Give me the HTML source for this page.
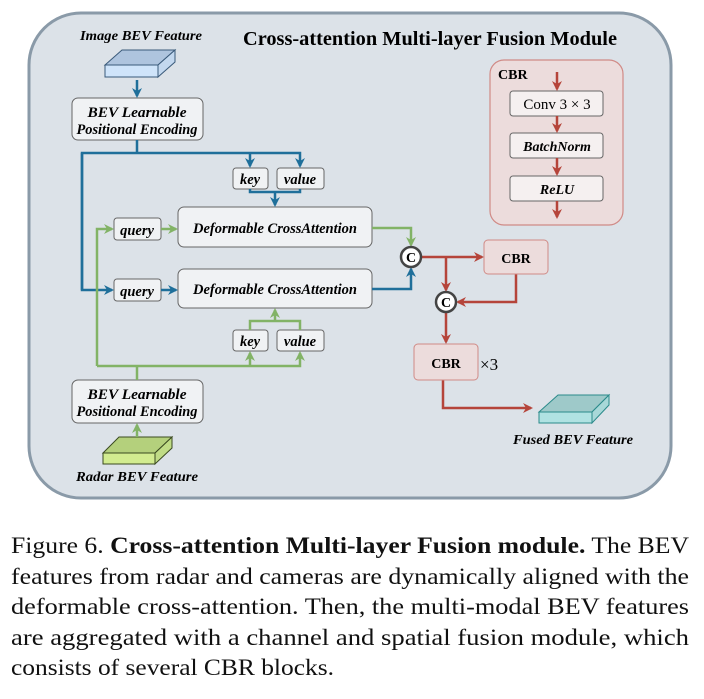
<!DOCTYPE html>
<html><head><meta charset="utf-8"><style>body{margin:0;background:#fff}svg{display:block}</style></head><body>
<svg width="704" height="699" viewBox="0 0 704 699" xmlns="http://www.w3.org/2000/svg" font-family="Liberation Serif, serif">
<defs>
<marker id="ab" viewBox="0 0 10 10" refX="8" refY="5" markerWidth="4" markerHeight="4" orient="auto"><path d="M0,0L10,5L0,10L3,5z" fill="#1f6f9a"/></marker>
<marker id="ag" viewBox="0 0 10 10" refX="8" refY="5" markerWidth="4" markerHeight="4" orient="auto"><path d="M0,0L10,5L0,10L3,5z" fill="#82b366"/></marker>
<marker id="ar" viewBox="0 0 10 10" refX="8" refY="5" markerWidth="4" markerHeight="4" orient="auto"><path d="M0,0L10,5L0,10L3,5z" fill="#b5443a"/></marker>
</defs>
<rect x="29" y="13" width="642" height="485" rx="52" fill="#dce2e8" stroke="#8a9aa8" stroke-width="3"/>
<text x="430" y="45" font-size="20.5" font-weight="bold" text-anchor="middle" textLength="374" lengthAdjust="spacingAndGlyphs">Cross-attention Multi-layer Fusion Module</text>
<g font-style="italic" font-weight="bold" font-size="14" text-anchor="middle">
<text x="141" y="40" textLength="122" lengthAdjust="spacingAndGlyphs">Image BEV Feature</text>
<text x="137" y="481" textLength="122" lengthAdjust="spacingAndGlyphs">Radar BEV Feature</text>
<text x="573" y="444" textLength="120" lengthAdjust="spacingAndGlyphs">Fused BEV Feature</text>
</g>
<g stroke="#3a5a7a" stroke-width="1">
<polygon points="105,65 122,50 175,50 158,65" fill="#aec4de"/>
<polygon points="158,65 175,50 175,62 158,77" fill="#c3d8ef"/>
<rect x="105" y="65" width="53" height="12" fill="#cfe4fa"/>
</g>
<g stroke="#3a4a20" stroke-width="1">
<polygon points="103,453 119,437 172,437 155,453" fill="#b4d07c"/>
<polygon points="155,453 172,437 172,448 155,464" fill="#c0dc86"/>
<rect x="103" y="453" width="52" height="11" fill="#d2ec90"/>
</g>
<g stroke="#2a8a8a" stroke-width="1">
<polygon points="539,412 558,395 609,395 592,412" fill="#9ec9c9"/>
<polygon points="592,412 609,395 609,405 592,423" fill="#a8d8d8"/>
<rect x="539" y="412" width="53" height="11" fill="#b0e2e2"/>
</g>
<g fill="#f0f2f4" stroke="#666" stroke-width="1">
<rect x="72" y="98" width="131" height="42" rx="6"/>
<rect x="72" y="380" width="131" height="43" rx="6"/>
<rect x="233" y="168" width="35" height="21" rx="3"/>
<rect x="277" y="168" width="47" height="21" rx="3"/>
<rect x="233" y="330" width="35" height="21" rx="3"/>
<rect x="277" y="330" width="47" height="21" rx="3"/>
<rect x="114" y="218" width="47" height="22" rx="3"/>
<rect x="114" y="279" width="47" height="22" rx="3"/>
<rect x="178" y="207" width="194" height="40" rx="6"/>
<rect x="178" y="269" width="194" height="39" rx="6"/>
</g>
<g font-style="italic" font-weight="bold" font-size="14.5" text-anchor="middle">
<text x="137" y="117" textLength="99" lengthAdjust="spacingAndGlyphs">BEV Learnable</text><text x="137" y="134" textLength="121" lengthAdjust="spacingAndGlyphs">Positional Encoding</text>
<text x="137" y="399" textLength="99" lengthAdjust="spacingAndGlyphs">BEV Learnable</text><text x="137" y="416" textLength="121" lengthAdjust="spacingAndGlyphs">Positional Encoding</text>
<text x="250" y="184">key</text><text x="300" y="184">value</text>
<text x="250" y="346">key</text><text x="300" y="346">value</text>
<text x="137" y="235">query</text><text x="137" y="296">query</text>
<text x="275" y="233" textLength="164" lengthAdjust="spacingAndGlyphs">Deformable CrossAttention</text>
<text x="275" y="294" textLength="164" lengthAdjust="spacingAndGlyphs">Deformable CrossAttention</text>
</g>
<g stroke="#1f6f9a" stroke-width="2.5" fill="none">
<line x1="137" y1="80" x2="137" y2="96" marker-end="url(#ab)"/>
<path d="M137,140V153M82,290V153H300V166" marker-end="url(#ab)"/>
<path d="M250,153V166" marker-end="url(#ab)"/>
<path d="M250,189V192H300V189M275,192V205" marker-end="url(#ab)"/>
<path d="M82,153V290H112" marker-end="url(#ab)"/>
<path d="M161,290H176" marker-end="url(#ab)"/>
<path d="M372,289H411V269" marker-end="url(#ab)"/>
</g>
<g stroke="#82b366" stroke-width="2.5" fill="none">
<path d="M137,437V425" marker-end="url(#ag)"/>
<path d="M137,380V366"/>
<path d="M97,366H300V353" marker-end="url(#ag)"/>
<path d="M250,366V353" marker-end="url(#ag)"/>
<path d="M97,366V229H112" marker-end="url(#ag)"/>
<path d="M161,229H176" marker-end="url(#ag)"/>
<path d="M250,330V321H300V330M275,321V310" marker-end="url(#ag)"/>
<path d="M372,228H411V245" marker-end="url(#ag)"/>
</g>
<rect x="490" y="60" width="133" height="165" rx="14" fill="#ecdcdc" stroke="#d08a86" stroke-width="1.2"/>
<text x="498" y="79" font-size="14" font-weight="bold">CBR</text>
<g fill="#f5f0f0" stroke="#666"><rect x="510" y="91" width="93" height="25" rx="3"/><rect x="510" y="133" width="93" height="25" rx="3"/><rect x="510" y="176" width="93" height="25" rx="3"/></g>
<text x="557" y="109" font-size="15" text-anchor="middle">Conv 3 × 3</text>
<text x="557" y="151" font-size="14" font-style="italic" font-weight="bold" text-anchor="middle">BatchNorm</text>
<text x="557" y="194" font-size="14" font-style="italic" font-weight="bold" text-anchor="middle">ReLU</text>
<g stroke="#b5443a" stroke-width="2.5" fill="none">
<path d="M557,72V89" marker-end="url(#ar)"/><path d="M557,116V131" marker-end="url(#ar)"/><path d="M557,158V174" marker-end="url(#ar)"/><path d="M557,201V217" marker-end="url(#ar)"/>
<path d="M421,257H482" marker-end="url(#ar)"/>
<path d="M446,257V290" marker-end="url(#ar)"/>
<path d="M516,274V302H458" marker-end="url(#ar)"/>
<path d="M446,312V342" marker-end="url(#ar)"/>
<path d="M443,380V408H531" marker-end="url(#ar)"/>
</g>
<g fill="#ecdcdc" stroke="#d08a86"><rect x="484" y="240" width="64" height="34" rx="4"/><rect x="414" y="344" width="64" height="36" rx="4"/></g>
<text x="516" y="263" font-size="14" font-weight="bold" text-anchor="middle">CBR</text>
<text x="446" y="368" font-size="14" font-weight="bold" text-anchor="middle">CBR</text>
<text x="480" y="370" font-size="17">×3</text>
<g fill="#fff" stroke="#444" stroke-width="2.5"><circle cx="411" cy="257" r="10"/><circle cx="446" cy="302" r="10"/></g>
<text x="411" y="262" font-size="14" font-weight="bold" text-anchor="middle">C</text>
<text x="446" y="307" font-size="14" font-weight="bold" text-anchor="middle">C</text>
<g font-size="23" fill="#111">
<text x="11" y="553" textLength="678" lengthAdjust="spacingAndGlyphs">Figure 6. <tspan font-weight="bold">Cross-attention Multi-layer Fusion module.</tspan> The BEV</text>
<text x="11" y="584" textLength="678" lengthAdjust="spacingAndGlyphs">features from radar and cameras are dynamically aligned with the</text>
<text x="11" y="614" textLength="678" lengthAdjust="spacingAndGlyphs">deformable cross-attention. Then, the multi-modal BEV features</text>
<text x="11" y="645" textLength="678" lengthAdjust="spacingAndGlyphs">are aggregated with a channel and spatial fusion module, which</text>
<text x="11" y="675" textLength="323" lengthAdjust="spacingAndGlyphs">consists of several CBR blocks.</text>
</g>
</svg>
</body></html>
